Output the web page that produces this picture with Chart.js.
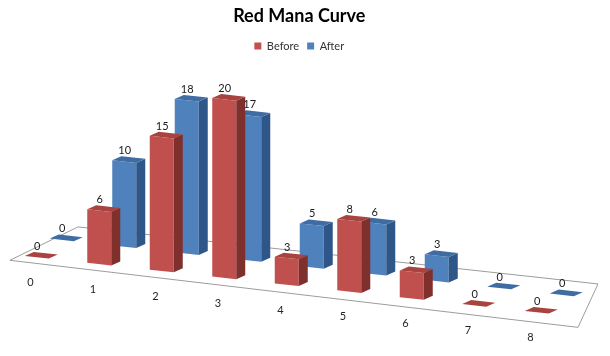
<!DOCTYPE html>
<html><head><meta charset="utf-8">
<script src="https://cdn.jsdelivr.net/npm/chart.js@4.4.1/dist/chart.umd.min.js"></script>
<style>html,body{margin:0;padding:0;background:#fff;}#wrap{width:610px;height:356px;}</style>
</head><body><div id="wrap"><canvas id="c" width="610" height="356"></canvas></div>
<script>
const categories = ['0','1','2','3','4','5','6','7','8'];
const beforeValues = [0,6,15,20,3,8,3,0,0];
const afterValues = [0,10,18,17,5,6,3,0,0];
const seriesNames = ['Before','After'];

const SKEW = 0.11;
const DX = 9, DY = -5;
const FACE = {
  Before: {front:'#C0504D', top:'#A8433F', side:'#7F2F2C'},
  After:  {front:'#4F81BD', top:'#3F6CA3', side:'#2F5688'}
};
const FONT = 'Lato, "Liberation Sans", sans-serif';

function skewPt(chart, x, y){ return [x, y + SKEW*(x - chart.chartArea.left)]; }

const pseudo3d = {
  id: 'pseudo3d',
  beforeDatasetsDraw(chart){
    const ctx = chart.ctx, xs = chart.scales.x, ys = chart.scales.y;
    // floor outline (value-space corners)
    const corners = [[-0.63,-0.67],[8.46,-1.18],[8.78,3.93],[0.46,3.91]];
    ctx.save();
    ctx.beginPath();
    corners.forEach((c,i)=>{
      const p = skewPt(chart, xs.getPixelForValue(c[0]), ys.getPixelForValue(c[1]));
      if(i) ctx.lineTo(p[0],p[1]); else ctx.moveTo(p[0],p[1]);
    });
    ctx.closePath();
    ctx.strokeStyle = '#9C9C9C'; ctx.lineWidth = 1; ctx.stroke();
    // category labels
    ctx.fillStyle = '#262626';
    ctx.font = '11px ' + FONT;
    ctx.textAlign = 'center'; ctx.textBaseline = 'middle';
    xs.getLabels().forEach((lab, i)=>{
      const p = skewPt(chart, xs.getPixelForValue(i - 0.3), ys.getPixelForValue(-2.9));
      ctx.fillText(lab, p[0], p[1]);
    });
    ctx.restore();
    ctx.save();
    ctx.transform(1, SKEW, 0, 1, 0, -SKEW*chart.chartArea.left);
  },
  afterDatasetDraw(chart, args){
    const ctx = chart.ctx;
    const ds = chart.data.datasets[args.index];
    const col = FACE[ds.label];
    args.meta.data.forEach(bar=>{
      const {x, y, base, width} = bar.getProps(['x','y','base','width'], true);
      const l = x - width/2, r = x + width/2;
      const top = Math.min(y, base), bottom = Math.max(y, base);
      if (bottom - top > 0.5){
        ctx.beginPath();
        ctx.moveTo(r, top); ctx.lineTo(r+DX, top+DY); ctx.lineTo(r+DX, bottom+DY); ctx.lineTo(r, bottom);
        ctx.closePath(); ctx.fillStyle = col.side; ctx.fill();
      }
      ctx.beginPath();
      ctx.moveTo(l, top); ctx.lineTo(r, top); ctx.lineTo(r+DX, top+DY); ctx.lineTo(l+DX, top+DY);
      ctx.closePath(); ctx.fillStyle = col.top; ctx.fill();
    });
  },
  afterDatasetsDraw(chart){
    const ctx = chart.ctx;
    ctx.restore();
    ctx.save();
    ctx.fillStyle = '#1a1a1a';
    ctx.font = '11px ' + FONT;
    ctx.textAlign = 'center'; ctx.textBaseline = 'bottom';
    chart.data.datasets.forEach((ds, di)=>{
      const meta = chart.getDatasetMeta(di);
      meta.data.forEach((bar, i)=>{
        const {x, y, base} = bar.getProps(['x','y','base'], true);
        const top = Math.min(y, base);
        const p = skewPt(chart, x + DX/2, top + DY);
        ctx.fillText(String(ds.data[i]), p[0] - 4, p[1] - 1);
      });
    });
    ctx.restore();
  }
};

new Chart(document.getElementById('c'), {
  type: 'bar',
  data: {
    labels: categories,
    datasets: [
      {label: seriesNames[0], data: beforeValues, backgroundColor: FACE.Before.front, yAxisID: 'y', clip: false},
      {label: seriesNames[1], data: afterValues, backgroundColor: FACE.After.front, yAxisID: 'y2', clip: false}
    ]
  },
  options: {
    responsive: false, animation: false,
    categoryPercentage: 0.8, barPercentage: 0.96,
    layout: {padding: {left: 18, right: 29.5, top: 0, bottom: 10}},
    plugins: {
      title: {display: true, text: 'Red Mana Curve', color: '#000', font: {family: FONT, size: 18, weight: 'bold'}, padding: {top: 5, bottom: 6}},
      legend: {labels: {boxWidth: 7, boxHeight: 7, color: '#333', font: {family: FONT, size: 11}, padding: 8}},
      tooltip: {enabled: false}
    },
    scales: {
      x: {display: false},
      y: {display: false, min: -10.17, max: 21.69},
      y2: {display: false, min: -13.02, max: 20.36}
    }
  },
  plugins: [pseudo3d]
});
</script>
</body></html>
